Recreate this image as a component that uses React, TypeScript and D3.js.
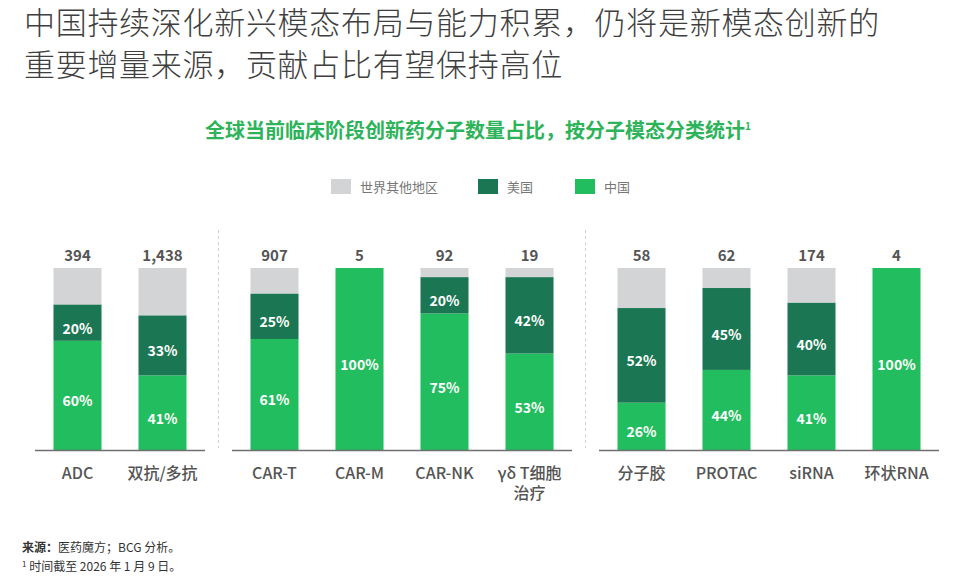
import React from 'react';
import * as d3 from 'd3';

// chart values
const categories = ['ADC', '双抗/多抗', 'CAR-T', 'CAR-M', 'CAR-NK', 'γδ T细胞|治疗', '分子胶', 'PROTAC', 'siRNA', '环状RNA'];
const groupOf = [0, 0, 1, 1, 1, 1, 2, 2, 2, 2];
const totals = [394, 1438, 907, 5, 92, 19, 58, 62, 174, 4];
const chinaShare = [60, 41, 61, 100, 75, 53, 26, 44, 41, 100];
const usShare = [20, 33, 25, 0, 20, 42, 52, 45, 40, 0];
const restShare = [20, 26, 14, 0, 5, 5, 22, 11, 19, 0];

const seriesKeys = ['china', 'us', 'rest'];
const seriesNames = ['中国', '美国', '世界其他地区'];
const colors: Record<string, string> = { china: '#22BD5E', us: '#1B7753', rest: '#D3D4D6' };

const FONT = '"Noto Sans CJK SC", "Noto Sans", sans-serif';

export default function App() {
  const W = 960, H = 588;
  const top = 268, base = 450;
  const step = 85, gap = 27, x0 = 35;

  const y = d3.scaleLinear().domain([0, 100]).range([base, top]);

  const nGroups = d3.max(groupOf)! + 1;
  const groups = d3.range(nGroups).map(g => categories.filter((_, i) => groupOf[i] === g));
  let cursor = x0;
  const groupScales = groups.map(cats => {
    const width = cats.length * step;
    const s = d3.scaleBand<string>().domain(cats).range([cursor, cursor + width]).paddingInner(0.435).paddingOuter(0.2175);
    cursor += width + gap;
    return s;
  });

  const rows = categories.map((c, i) => ({ cat: c, china: chinaShare[i], us: usShare[i], rest: restShare[i] }));
  const stacked = d3.stack<any>().keys(seriesKeys)(rows);

  const xOf = (i: number) => groupScales[groupOf[i]](categories[i])!;
  const bw = groupScales[0].bandwidth();
  const fmt = d3.format(',');

  // legend order from left
  const legendOrder = ['rest', 'us', 'china'];
  const legendX = [331, 478, 575];

  return (
    <div style={{ position: 'fixed', left: 0, top: 0 }}>
      <svg width={W} height={H} style={{ display: 'block', background: '#fff' }} fontFamily={FONT}>
        <text x={24} y={34} fontSize={31} fontWeight={300} letterSpacing={0.7} fill="#3f3f3f">中国持续深化新兴模态布局与能力积累，仍将是新模态创新的</text>
        <text x={24} y={76} fontSize={31} fontWeight={300} letterSpacing={0.7} fill="#3f3f3f">重要增量来源，贡献占比有望保持高位</text>

        <text x={478} y={138} fontSize={20} fontWeight={700} fill="#2DB35A" textAnchor="middle">
          全球当前临床阶段创新药分子数量占比，按分子模态分类统计
          <tspan fontSize={10} dy={-8}>1</tspan>
        </text>

        {legendOrder.map((k, j) => (
          <g key={k} transform={`translate(${legendX[j]},179)`}>
            <rect width={20} height={15} fill={colors[k]} />
            <text x={29} y={7.5} dominantBaseline="central" fontSize={13} fill="#777">
              {seriesNames[seriesKeys.indexOf(k)]}
            </text>
          </g>
        ))}

        {/* group dividers */}
        {groupScales.slice(1).map((s, g) => (
          <line key={g} x1={s.range()[0] - gap / 2} x2={s.range()[0] - gap / 2} y1={230} y2={448}
            stroke="#d0d0d0" strokeDasharray="3,3" strokeWidth={1} />
        ))}

        {stacked.map(layer => (
          <g key={layer.key}>
            {layer.map((d, i) => (
              d[1] - d[0] > 0 ? (
                <rect key={i} x={xOf(i)} width={bw} y={y(d[1])} height={y(d[0]) - y(d[1])} fill={colors[layer.key]} />
              ) : null
            ))}
          </g>
        ))}

        {stacked.filter(l => l.key !== 'rest').map(layer => (
          <g key={layer.key + '-lab'}>
            {layer.map((d, i) => (
              d[1] - d[0] > 0 ? (
                <text key={i} x={xOf(i) + bw / 2} y={(y(d[0]) + y(d[1])) / 2 + 5} textAnchor="middle"
                  dominantBaseline="central" fontSize={14} fontWeight={700} fill="#fff">
                  {d[1] - d[0]}%
                </text>
              ) : null
            ))}
          </g>
        ))}

        {groupScales.map((s, g) => (
          <line key={g} x1={s.range()[0]} x2={s.range()[1]} y1={base + 0.5} y2={base + 0.5} stroke="#6f6f6f" strokeWidth={1.5} />
        ))}

        {categories.map((c, i) => (
          <text key={c} x={xOf(i) + bw / 2} y={261} textAnchor="middle" fontSize={15} fontWeight={700} fill="#555">
            {fmt(totals[i])}
          </text>
        ))}

        {categories.map((c, i) => (
          <text key={c + '-x'} textAnchor="middle" fontSize={16} fontWeight={500} fill="#555">
            {c.split('|').map((line, k) => (
              <tspan key={k} x={xOf(i) + bw / 2} y={479 + k * 20}>{line}</tspan>
            ))}
          </text>
        ))}

        <text x={22} y={552} fontSize={12} fill="#333">
          <tspan fontWeight={700}>来源：</tspan>医药魔方；BCG 分析。
        </text>
        <text x={22} y={571} fontSize={12} fill="#333">
          <tspan fontSize={8} dy={-4}>1</tspan>
          <tspan dy={4}> 时间截至 2026 年 1 月 9 日。</tspan>
        </text>
      </svg>
    </div>
  );
}
